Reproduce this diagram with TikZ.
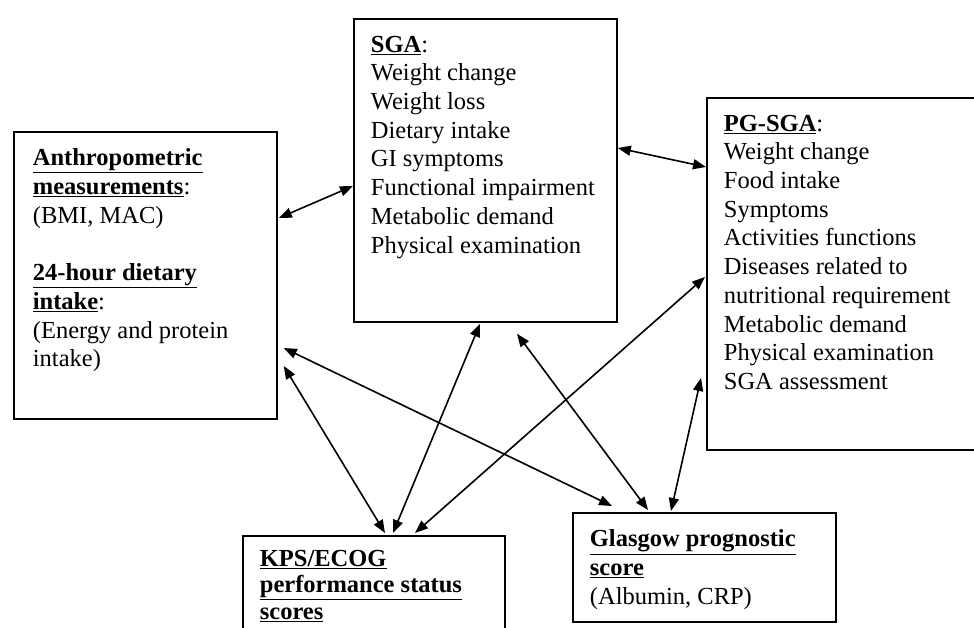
\documentclass[tikz,border=0pt]{standalone}
\usepackage{fontspec}
\setmainfont{Liberation Serif}
\usetikzlibrary{arrows.meta,calc}
\newcommand{\boxtext}[3]{\begin{minipage}[t][#2][t]{#1}#3\end{minipage}}
\newcommand{\head}[1]{\underline{\textbf{#1}}}

\begin{document}
\begin{tikzpicture}[x=1pt,y=-1pt,
  box/.style={draw,line width=1.8pt,anchor=north west,inner xsep=17pt,inner ysep=17pt,font=\fontsize{24.5}{28.7}\selectfont},
  link/.style={{Triangle[length=13pt,width=10pt]}-{Triangle[length=13pt,width=10pt]},line width=1.6pt}]
\useasboundingbox (0,0) rectangle (974,628);

\node[box,inner xsep=19pt] (anthro) at (13,131) {\boxtext{225pt}{253pt}{\head{Anthropometric}\\ \head{measurements}:\\ (BMI, MAC)\\[28.7pt] \head{24-hour dietary}\\ \head{intake}:\\ (Energy and protein\\ intake)}};
\node[box] (sga) at (353,18) {\boxtext{229pt}{269pt}{\head{SGA}:\\ Weight change\\ Weight loss\\ Dietary intake\\ GI symptoms\\ Functional impairment\\ Metabolic demand\\ Physical examination}};
\node[box] (pgsga) at (706,97) {\boxtext{266pt}{318pt}{\head{PG-SGA}:\\ Weight change\\ Food intake\\ Symptoms\\ Activities functions\\ Diseases related to\\ nutritional requirement\\ Metabolic demand\\ Physical examination\\ SGA assessment}};
\node[box,inner ysep=14pt,font=\fontsize{24.5}{26.5}\selectfont] (kps) at (242,535) {\boxtext{228pt}{102pt}{\head{KPS/ECOG}\\ \head{performance status}\\ \head{scores}}};
\node[box] (glasgow) at (572,512) {\boxtext{229pt}{75pt}{\head{Glasgow prognostic}\\ \head{score}\\ (Albumin, CRP)}};

\draw[link] ($(anthro.north east)+(1,87)$) -- ($(sga.north west)+(0,168)$);
\draw[link] ($(sga.north east)+(0,130)$) -- ($(pgsga.north west)+(0,70)$);
\draw[link] ($(anthro.north east)+(6,217)$) -- ($(glasgow.north west)+(40,-6)$);
\draw[link] ($(anthro.north east)+(6,235)$) -- ($(kps.north west)+(143,-2)$);
\draw[link] ($(sga.south west)+(127,1)$) -- ($(kps.north west)+(151,-2)$);
\draw[link] ($(pgsga.north west)+(-1,180)$) -- ($(kps.north west)+(173,-2)$);
\draw[link] ($(sga.south west)+(164,11)$) -- ($(glasgow.north west)+(76,-2)$);
\draw[link] ($(pgsga.north west)+(-5,281)$) -- ($(glasgow.north west)+(99,-1)$);
\end{tikzpicture}
\end{document}
